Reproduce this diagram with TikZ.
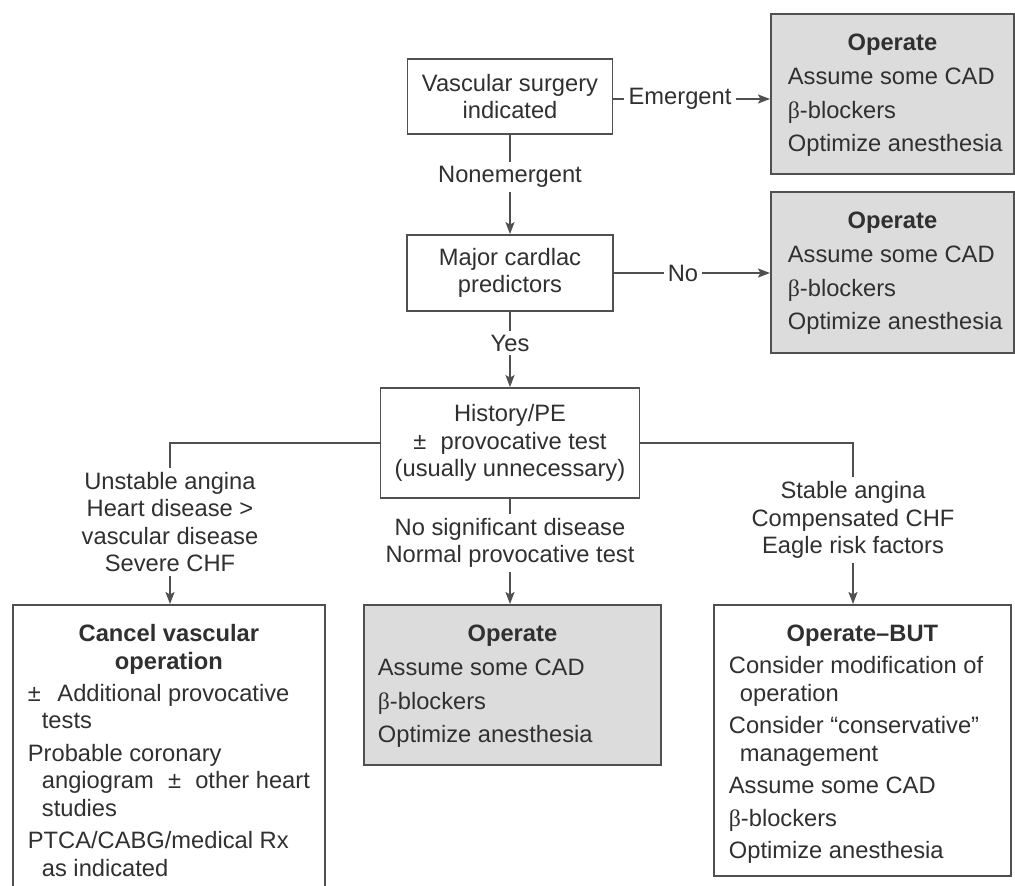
\documentclass[tikz,border=0pt]{standalone}
\usepackage{fontspec}
\setmainfont{Liberation Sans}
\newfontfamily\betaf{Liberation Serif}
\usetikzlibrary{arrows.meta}
\definecolor{linec}{HTML}{505050}
\definecolor{txtc}{HTML}{303030}
\definecolor{boxg}{HTML}{DCDCDC}
\newcommand{\bb}{{\betaf β}}
\newcommand{\opbody}[3]{\parbox[t][#2][t]{#1}{\centering\bfseries\rule{0pt}{37pt}Operate\par\vspace{6.5pt}\raggedright\mdseries\leftskip=#3 Assume some CAD\\[6pt]\bb-blockers\\[6pt]Optimize anesthesia\par}}
\begin{document}
\begin{tikzpicture}[x=1pt,y=-1pt,
  every node/.style={font=\fontsize{23.7}{27.5}\selectfont, text=txtc},
  wbox/.style={draw=linec, line width=1.8pt, fill=white, align=center, inner sep=0pt},
  gbox/.style={draw=linec, line width=1.8pt, fill=boxg, inner sep=0pt, anchor=north west},
  obox/.style={draw=linec, line width=1.8pt, fill=white, inner sep=0pt, anchor=north west},
  lbl/.style={align=center, inner sep=4pt},
  conn/.style={draw=linec, line width=1.8pt},
  arr/.style={conn, -{Stealth[length=12pt,width=9pt,inset=2.5pt]}}]
\fill[white] (0,0) rectangle (1015,886);
\useasboundingbox (0,0) rectangle (1015,886);
\clip (0,0) rectangle (1015,886);

\node[wbox, minimum width=205pt, minimum height=75pt] (b1) at (510,96.5) {Vascular surgery\\indicated};
\node[lbl] (em) at (680,99) {Emergent};
\node[gbox] (op1) at (770,13) {\opbody{243pt}{160pt}{17pt}};
\node[lbl] (none) at (510,177) {Nonemergent};
\node[wbox, minimum width=206pt, minimum height=76pt] (b2) at (510,273) {Major cardlac\\predictors};
\node[lbl] (no) at (683,273) {No};
\node[gbox] (op2) at (770,191) {\opbody{243pt}{161pt}{17pt}};
\node[lbl] (yes) at (510,343) {Yes};
\node[wbox, minimum width=259pt, minimum height=110pt] (hist) at (510,443) {History/PE\\±\hspace{0.6em}provocative test\\(usually unnecessary)};
\node[lbl] (lL) at (170,522) {Unstable angina\\Heart disease >\\vascular disease\\Severe CHF};
\node[lbl] (lM) at (510,543) {No significant disease\\Normal provocative test};
\node[lbl] (lR) at (853,520) {Stable angina\\Compensated CHF\\Eagle risk factors};

\node[obox] (cancel) at (12,604) {\parbox[t][300pt][t]{312pt}{\centering\bfseries\rule{0pt}{37pt}Cancel vascular\\operation\par\vspace{4.5pt}\raggedright\mdseries\leftskip=15pt
±\hspace{0.7em}Additional provocative\\
\hspace*{14pt}tests\\[5pt]
Probable coronary\\
\hspace*{14pt}angiogram\hspace{0.6em}±\hspace{0.6em}other heart\\
\hspace*{14pt}studies\\[5pt]
PTCA/CABG/medical Rx\\
\hspace*{14pt}as indicated\par}};
\node[gbox] (op3) at (363,604) {\opbody{297pt}{160pt}{14pt}};
\node[obox] (obut) at (713,604) {\parbox[t][271pt][t]{297pt}{\centering\bfseries\rule{0pt}{37pt}Operate–BUT\par\vspace{4.5pt}\raggedright\mdseries\leftskip=15pt
Consider modification of\\
\hspace*{11pt}operation\\[5pt]
Consider “conservative”\\
\hspace*{11pt}management\\[5pt]
Assume some CAD\\[5pt]
\bb-blockers\\[5pt]
Optimize anesthesia\par}};

\draw[conn] (b1.east |- em.west) -- (em.west);
\draw[arr] (em.east) -- (em.east -| op1.west);
\draw[conn] (b1.south) -- (none.north);
\draw[arr] (none.south) -- (b2.north);
\draw[conn] (b2.east |- no.west) -- (no.west);
\draw[arr] (no.east) -- (no.east -| op2.west);
\draw[conn] (b2.south) -- (yes.north);
\draw[arr] (yes.south) -- (hist.north);
\draw[conn] (hist.west) -| (lL.north);
\draw[conn] (hist.east) -| (lR.north);
\draw[conn] (hist.south) -- (lM.north);
\draw[arr] (lL.south) -- (lL.south |- cancel.north);
\draw[arr] (lM.south) -- (lM.south |- op3.north);
\draw[arr] (lR.south) -- (lR.south |- obut.north);
\end{tikzpicture}
\end{document}
